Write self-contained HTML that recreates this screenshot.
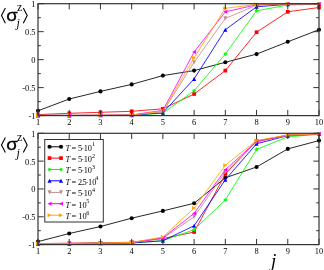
<!DOCTYPE html>
<html><head><meta charset="utf-8"><style>
html,body{margin:0;padding:0;background:#fff;}
svg{display:block;will-change:transform;}
.t{font:8.4px "Liberation Serif",serif;fill:#000}
.l{font:8.3px "Liberation Serif",serif;fill:#000}
.s{font:16px "Liberation Sans",sans-serif;fill:#000}
.z{font:12px "Liberation Serif",serif;fill:#000}
.j{font:italic 12px "Liberation Serif",serif;fill:#000}
</style></head><body>
<svg width="324" height="270" viewBox="0 0 324 270">
<rect width="324" height="270" fill="#fff"/>
<clipPath id="c1"><rect x="35.5" y="1.2000000000000002" width="286.0" height="116.89999999999999"/></clipPath>
<clipPath id="c2"><rect x="35.5" y="130.8" width="286.0" height="116.29999999999998"/></clipPath>
<g clip-path="url(#c1)">
<polyline points="38.00,110.80 69.22,99.00 100.44,91.40 131.67,84.40 162.89,75.60 194.11,70.60 225.33,62.30 256.56,54.10 287.78,41.80 319.00,29.70" fill="none" stroke="#000000" stroke-width="0.85"/>
<circle cx="38.00" cy="110.80" r="2.05" fill="#000000"/>
<circle cx="69.22" cy="99.00" r="2.05" fill="#000000"/>
<circle cx="100.44" cy="91.40" r="2.05" fill="#000000"/>
<circle cx="131.67" cy="84.40" r="2.05" fill="#000000"/>
<circle cx="162.89" cy="75.60" r="2.05" fill="#000000"/>
<circle cx="194.11" cy="70.60" r="2.05" fill="#000000"/>
<circle cx="225.33" cy="62.30" r="2.05" fill="#000000"/>
<circle cx="256.56" cy="54.10" r="2.05" fill="#000000"/>
<circle cx="287.78" cy="41.80" r="2.05" fill="#000000"/>
<circle cx="319.00" cy="29.70" r="2.05" fill="#000000"/>
<polyline points="38.00,114.60 69.22,113.30 100.44,112.30 131.67,111.30 162.89,108.80 194.11,94.00 225.33,70.60 256.56,32.20 287.78,11.80 319.00,7.50" fill="none" stroke="#ff0000" stroke-width="0.85"/>
<rect x="36.15" y="112.75" width="3.70" height="3.70" fill="#ff0000"/>
<rect x="67.37" y="111.45" width="3.70" height="3.70" fill="#ff0000"/>
<rect x="98.59" y="110.45" width="3.70" height="3.70" fill="#ff0000"/>
<rect x="129.82" y="109.45" width="3.70" height="3.70" fill="#ff0000"/>
<rect x="161.04" y="106.95" width="3.70" height="3.70" fill="#ff0000"/>
<rect x="192.26" y="92.15" width="3.70" height="3.70" fill="#ff0000"/>
<rect x="223.48" y="68.75" width="3.70" height="3.70" fill="#ff0000"/>
<rect x="254.71" y="30.35" width="3.70" height="3.70" fill="#ff0000"/>
<rect x="285.93" y="9.95" width="3.70" height="3.70" fill="#ff0000"/>
<rect x="317.15" y="5.65" width="3.70" height="3.70" fill="#ff0000"/>
<polyline points="38.00,115.40 69.22,115.40 100.44,115.30 131.67,115.20 162.89,113.30 194.11,90.70 225.33,54.00 256.56,10.80 287.78,5.00 319.00,4.20" fill="none" stroke="#00ff00" stroke-width="0.85"/>
<path d="M35.95 115.40L38.00 113.35L40.05 115.40L38.00 117.45Z" fill="#00ff00"/>
<path d="M67.17 115.40L69.22 113.35L71.27 115.40L69.22 117.45Z" fill="#00ff00"/>
<path d="M98.39 115.30L100.44 113.25L102.49 115.30L100.44 117.35Z" fill="#00ff00"/>
<path d="M129.62 115.20L131.67 113.15L133.72 115.20L131.67 117.25Z" fill="#00ff00"/>
<path d="M160.84 113.30L162.89 111.25L164.94 113.30L162.89 115.35Z" fill="#00ff00"/>
<path d="M192.06 90.70L194.11 88.65L196.16 90.70L194.11 92.75Z" fill="#00ff00"/>
<path d="M223.28 54.00L225.33 51.95L227.38 54.00L225.33 56.05Z" fill="#00ff00"/>
<path d="M254.51 10.80L256.56 8.75L258.61 10.80L256.56 12.85Z" fill="#00ff00"/>
<path d="M285.73 5.00L287.78 2.95L289.83 5.00L287.78 7.05Z" fill="#00ff00"/>
<path d="M316.95 4.20L319.00 2.15L321.05 4.20L319.00 6.25Z" fill="#00ff00"/>
<polyline points="38.00,115.40 69.22,115.40 100.44,115.30 131.67,115.20 162.89,112.80 194.11,78.90 225.33,29.70 256.56,6.80 287.78,4.30 319.00,4.00" fill="none" stroke="#0000ff" stroke-width="0.85"/>
<path d="M35.95 117.45L40.05 117.45L38.00 113.35Z" fill="#0000ff"/>
<path d="M67.17 117.45L71.27 117.45L69.22 113.35Z" fill="#0000ff"/>
<path d="M98.39 117.35L102.49 117.35L100.44 113.25Z" fill="#0000ff"/>
<path d="M129.62 117.25L133.72 117.25L131.67 113.15Z" fill="#0000ff"/>
<path d="M160.84 114.85L164.94 114.85L162.89 110.75Z" fill="#0000ff"/>
<path d="M192.06 80.95L196.16 80.95L194.11 76.85Z" fill="#0000ff"/>
<path d="M223.28 31.75L227.38 31.75L225.33 27.65Z" fill="#0000ff"/>
<path d="M254.51 8.85L258.61 8.85L256.56 4.75Z" fill="#0000ff"/>
<path d="M285.73 6.35L289.83 6.35L287.78 2.25Z" fill="#0000ff"/>
<path d="M316.95 6.05L321.05 6.05L319.00 1.95Z" fill="#0000ff"/>
<polyline points="38.00,115.40 69.22,115.40 100.44,115.30 131.67,115.10 162.89,111.80 194.11,62.20 225.33,18.40 256.56,5.20 287.78,4.10 319.00,4.00" fill="none" stroke="#bc8f8f" stroke-width="0.85"/>
<path d="M35.95 113.35L40.05 113.35L38.00 117.45Z" fill="#bc8f8f"/>
<path d="M67.17 113.35L71.27 113.35L69.22 117.45Z" fill="#bc8f8f"/>
<path d="M98.39 113.25L102.49 113.25L100.44 117.35Z" fill="#bc8f8f"/>
<path d="M129.62 113.05L133.72 113.05L131.67 117.15Z" fill="#bc8f8f"/>
<path d="M160.84 109.75L164.94 109.75L162.89 113.85Z" fill="#bc8f8f"/>
<path d="M192.06 60.15L196.16 60.15L194.11 64.25Z" fill="#bc8f8f"/>
<path d="M223.28 16.35L227.38 16.35L225.33 20.45Z" fill="#bc8f8f"/>
<path d="M254.51 3.15L258.61 3.15L256.56 7.25Z" fill="#bc8f8f"/>
<path d="M285.73 2.05L289.83 2.05L287.78 6.15Z" fill="#bc8f8f"/>
<path d="M316.95 1.95L321.05 1.95L319.00 6.05Z" fill="#bc8f8f"/>
<polyline points="38.00,115.40 69.22,115.40 100.44,115.30 131.67,115.00 162.89,110.30 194.11,52.00 225.33,11.80 256.56,4.80 287.78,4.00 319.00,4.00" fill="none" stroke="#ff00ff" stroke-width="0.85"/>
<path d="M40.05 113.35L40.05 117.45L35.95 115.40Z" fill="#ff00ff"/>
<path d="M71.27 113.35L71.27 117.45L67.17 115.40Z" fill="#ff00ff"/>
<path d="M102.49 113.25L102.49 117.35L98.39 115.30Z" fill="#ff00ff"/>
<path d="M133.72 112.95L133.72 117.05L129.62 115.00Z" fill="#ff00ff"/>
<path d="M164.94 108.25L164.94 112.35L160.84 110.30Z" fill="#ff00ff"/>
<path d="M196.16 49.95L196.16 54.05L192.06 52.00Z" fill="#ff00ff"/>
<path d="M227.38 9.75L227.38 13.85L223.28 11.80Z" fill="#ff00ff"/>
<path d="M258.61 2.75L258.61 6.85L254.51 4.80Z" fill="#ff00ff"/>
<path d="M289.83 1.95L289.83 6.05L285.73 4.00Z" fill="#ff00ff"/>
<path d="M321.05 1.95L321.05 6.05L316.95 4.00Z" fill="#ff00ff"/>
<polyline points="38.00,115.40 69.22,115.40 100.44,115.30 131.67,115.00 162.89,111.00 194.11,57.90 225.33,8.30 256.56,4.40 287.78,4.00 319.00,4.00" fill="none" stroke="#ffa500" stroke-width="0.85"/>
<path d="M35.95 113.35L35.95 117.45L40.05 115.40Z" fill="#ffa500"/>
<path d="M67.17 113.35L67.17 117.45L71.27 115.40Z" fill="#ffa500"/>
<path d="M98.39 113.25L98.39 117.35L102.49 115.30Z" fill="#ffa500"/>
<path d="M129.62 112.95L129.62 117.05L133.72 115.00Z" fill="#ffa500"/>
<path d="M160.84 108.95L160.84 113.05L164.94 111.00Z" fill="#ffa500"/>
<path d="M192.06 55.85L192.06 59.95L196.16 57.90Z" fill="#ffa500"/>
<path d="M223.28 6.25L223.28 10.35L227.38 8.30Z" fill="#ffa500"/>
<path d="M254.51 2.35L254.51 6.45L258.61 4.40Z" fill="#ffa500"/>
<path d="M285.73 1.95L285.73 6.05L289.83 4.00Z" fill="#ffa500"/>
<path d="M316.95 1.95L316.95 6.05L321.05 4.00Z" fill="#ffa500"/>
</g>
<g clip-path="url(#c2)">
<polyline points="38.00,241.60 69.22,233.50 100.44,226.50 131.67,218.20 162.89,210.90 194.11,203.30 225.33,177.80 256.56,167.00 287.78,148.90 319.00,140.60" fill="none" stroke="#000000" stroke-width="0.85"/>
<circle cx="38.00" cy="241.60" r="2.05" fill="#000000"/>
<circle cx="69.22" cy="233.50" r="2.05" fill="#000000"/>
<circle cx="100.44" cy="226.50" r="2.05" fill="#000000"/>
<circle cx="131.67" cy="218.20" r="2.05" fill="#000000"/>
<circle cx="162.89" cy="210.90" r="2.05" fill="#000000"/>
<circle cx="194.11" cy="203.30" r="2.05" fill="#000000"/>
<circle cx="225.33" cy="177.80" r="2.05" fill="#000000"/>
<circle cx="256.56" cy="167.00" r="2.05" fill="#000000"/>
<circle cx="287.78" cy="148.90" r="2.05" fill="#000000"/>
<circle cx="319.00" cy="140.60" r="2.05" fill="#000000"/>
<polyline points="38.00,243.60 69.22,243.20 100.44,242.80 131.67,242.30 162.89,238.60 194.11,232.00 225.33,174.00 256.56,141.00 287.78,135.20 319.00,134.00" fill="none" stroke="#ff0000" stroke-width="0.85"/>
<rect x="36.15" y="241.75" width="3.70" height="3.70" fill="#ff0000"/>
<rect x="67.37" y="241.35" width="3.70" height="3.70" fill="#ff0000"/>
<rect x="98.59" y="240.95" width="3.70" height="3.70" fill="#ff0000"/>
<rect x="129.82" y="240.45" width="3.70" height="3.70" fill="#ff0000"/>
<rect x="161.04" y="236.75" width="3.70" height="3.70" fill="#ff0000"/>
<rect x="192.26" y="230.15" width="3.70" height="3.70" fill="#ff0000"/>
<rect x="223.48" y="172.15" width="3.70" height="3.70" fill="#ff0000"/>
<rect x="254.71" y="139.15" width="3.70" height="3.70" fill="#ff0000"/>
<rect x="285.93" y="133.35" width="3.70" height="3.70" fill="#ff0000"/>
<rect x="317.15" y="132.15" width="3.70" height="3.70" fill="#ff0000"/>
<polyline points="38.00,243.80 69.22,243.60 100.44,243.30 131.67,243.00 162.89,240.60 194.11,229.70 225.33,200.00 256.56,149.40 287.78,136.80 319.00,134.40" fill="none" stroke="#00ff00" stroke-width="0.85"/>
<path d="M35.95 243.80L38.00 241.75L40.05 243.80L38.00 245.85Z" fill="#00ff00"/>
<path d="M67.17 243.60L69.22 241.55L71.27 243.60L69.22 245.65Z" fill="#00ff00"/>
<path d="M98.39 243.30L100.44 241.25L102.49 243.30L100.44 245.35Z" fill="#00ff00"/>
<path d="M129.62 243.00L131.67 240.95L133.72 243.00L131.67 245.05Z" fill="#00ff00"/>
<path d="M160.84 240.60L162.89 238.55L164.94 240.60L162.89 242.65Z" fill="#00ff00"/>
<path d="M192.06 229.70L194.11 227.65L196.16 229.70L194.11 231.75Z" fill="#00ff00"/>
<path d="M223.28 200.00L225.33 197.95L227.38 200.00L225.33 202.05Z" fill="#00ff00"/>
<path d="M254.51 149.40L256.56 147.35L258.61 149.40L256.56 151.45Z" fill="#00ff00"/>
<path d="M285.73 136.80L287.78 134.75L289.83 136.80L287.78 138.85Z" fill="#00ff00"/>
<path d="M316.95 134.40L319.00 132.35L321.05 134.40L319.00 136.45Z" fill="#00ff00"/>
<polyline points="38.00,243.80 69.22,243.60 100.44,243.30 131.67,243.00 162.89,240.80 194.11,225.70 225.33,179.80 256.56,143.80 287.78,135.60 319.00,134.00" fill="none" stroke="#0000ff" stroke-width="0.85"/>
<path d="M35.95 245.85L40.05 245.85L38.00 241.75Z" fill="#0000ff"/>
<path d="M67.17 245.65L71.27 245.65L69.22 241.55Z" fill="#0000ff"/>
<path d="M98.39 245.35L102.49 245.35L100.44 241.25Z" fill="#0000ff"/>
<path d="M129.62 245.05L133.72 245.05L131.67 240.95Z" fill="#0000ff"/>
<path d="M160.84 242.85L164.94 242.85L162.89 238.75Z" fill="#0000ff"/>
<path d="M192.06 227.75L196.16 227.75L194.11 223.65Z" fill="#0000ff"/>
<path d="M223.28 181.85L227.38 181.85L225.33 177.75Z" fill="#0000ff"/>
<path d="M254.51 145.85L258.61 145.85L256.56 141.75Z" fill="#0000ff"/>
<path d="M285.73 137.65L289.83 137.65L287.78 133.55Z" fill="#0000ff"/>
<path d="M316.95 136.05L321.05 136.05L319.00 131.95Z" fill="#0000ff"/>
<polyline points="38.00,243.80 69.22,243.50 100.44,243.20 131.67,242.80 162.89,238.30 194.11,216.90 225.33,172.00 256.56,142.00 287.78,135.30 319.00,134.00" fill="none" stroke="#bc8f8f" stroke-width="0.85"/>
<path d="M35.95 241.75L40.05 241.75L38.00 245.85Z" fill="#bc8f8f"/>
<path d="M67.17 241.45L71.27 241.45L69.22 245.55Z" fill="#bc8f8f"/>
<path d="M98.39 241.15L102.49 241.15L100.44 245.25Z" fill="#bc8f8f"/>
<path d="M129.62 240.75L133.72 240.75L131.67 244.85Z" fill="#bc8f8f"/>
<path d="M160.84 236.25L164.94 236.25L162.89 240.35Z" fill="#bc8f8f"/>
<path d="M192.06 214.85L196.16 214.85L194.11 218.95Z" fill="#bc8f8f"/>
<path d="M223.28 169.95L227.38 169.95L225.33 174.05Z" fill="#bc8f8f"/>
<path d="M254.51 139.95L258.61 139.95L256.56 144.05Z" fill="#bc8f8f"/>
<path d="M285.73 133.25L289.83 133.25L287.78 137.35Z" fill="#bc8f8f"/>
<path d="M316.95 131.95L321.05 131.95L319.00 136.05Z" fill="#bc8f8f"/>
<polyline points="38.00,243.80 69.22,243.50 100.44,243.20 131.67,242.60 162.89,237.80 194.11,213.40 225.33,169.70 256.56,141.50 287.78,135.20 319.00,134.00" fill="none" stroke="#ff00ff" stroke-width="0.85"/>
<path d="M40.05 241.75L40.05 245.85L35.95 243.80Z" fill="#ff00ff"/>
<path d="M71.27 241.45L71.27 245.55L67.17 243.50Z" fill="#ff00ff"/>
<path d="M102.49 241.15L102.49 245.25L98.39 243.20Z" fill="#ff00ff"/>
<path d="M133.72 240.55L133.72 244.65L129.62 242.60Z" fill="#ff00ff"/>
<path d="M164.94 235.75L164.94 239.85L160.84 237.80Z" fill="#ff00ff"/>
<path d="M196.16 211.35L196.16 215.45L192.06 213.40Z" fill="#ff00ff"/>
<path d="M227.38 167.65L227.38 171.75L223.28 169.70Z" fill="#ff00ff"/>
<path d="M258.61 139.45L258.61 143.55L254.51 141.50Z" fill="#ff00ff"/>
<path d="M289.83 133.15L289.83 137.25L285.73 135.20Z" fill="#ff00ff"/>
<path d="M321.05 131.95L321.05 136.05L316.95 134.00Z" fill="#ff00ff"/>
<polyline points="38.00,243.80 69.22,243.50 100.44,243.00 131.67,242.40 162.89,237.00 194.11,208.10 225.33,165.20 256.56,140.50 287.78,135.00 319.00,134.00" fill="none" stroke="#ffa500" stroke-width="0.85"/>
<path d="M35.95 241.75L35.95 245.85L40.05 243.80Z" fill="#ffa500"/>
<path d="M67.17 241.45L67.17 245.55L71.27 243.50Z" fill="#ffa500"/>
<path d="M98.39 240.95L98.39 245.05L102.49 243.00Z" fill="#ffa500"/>
<path d="M129.62 240.35L129.62 244.45L133.72 242.40Z" fill="#ffa500"/>
<path d="M160.84 234.95L160.84 239.05L164.94 237.00Z" fill="#ffa500"/>
<path d="M192.06 206.05L192.06 210.15L196.16 208.10Z" fill="#ffa500"/>
<path d="M223.28 163.15L223.28 167.25L227.38 165.20Z" fill="#ffa500"/>
<path d="M254.51 138.45L254.51 142.55L258.61 140.50Z" fill="#ffa500"/>
<path d="M285.73 132.95L285.73 137.05L289.83 135.00Z" fill="#ffa500"/>
<path d="M316.95 131.95L316.95 136.05L321.05 134.00Z" fill="#ffa500"/>
</g>
<path d="M38.0 3.70h5.7M319.0 3.70h-5.7" stroke="#333" stroke-width="1"/>
<path d="M38.0 17.69h2.8M319.0 17.69h-2.8" stroke="#333" stroke-width="1"/>
<path d="M38.0 31.67h5.7M319.0 31.67h-5.7" stroke="#333" stroke-width="1"/>
<path d="M38.0 45.66h2.8M319.0 45.66h-2.8" stroke="#333" stroke-width="1"/>
<path d="M38.0 59.65h5.7M319.0 59.65h-5.7" stroke="#333" stroke-width="1"/>
<path d="M38.0 73.64h2.8M319.0 73.64h-2.8" stroke="#333" stroke-width="1"/>
<path d="M38.0 87.62h5.7M319.0 87.62h-5.7" stroke="#333" stroke-width="1"/>
<path d="M38.0 101.61h2.8M319.0 101.61h-2.8" stroke="#333" stroke-width="1"/>
<path d="M38.0 115.60h5.7M319.0 115.60h-5.7" stroke="#333" stroke-width="1"/>
<path d="M38.00 3.7v5.7M38.00 115.6v-5.7" stroke="#333" stroke-width="1"/>
<path d="M69.22 3.7v5.7M69.22 115.6v-5.7" stroke="#333" stroke-width="1"/>
<path d="M100.44 3.7v5.7M100.44 115.6v-5.7" stroke="#333" stroke-width="1"/>
<path d="M131.67 3.7v5.7M131.67 115.6v-5.7" stroke="#333" stroke-width="1"/>
<path d="M162.89 3.7v5.7M162.89 115.6v-5.7" stroke="#333" stroke-width="1"/>
<path d="M194.11 3.7v5.7M194.11 115.6v-5.7" stroke="#333" stroke-width="1"/>
<path d="M225.33 3.7v5.7M225.33 115.6v-5.7" stroke="#333" stroke-width="1"/>
<path d="M256.56 3.7v5.7M256.56 115.6v-5.7" stroke="#333" stroke-width="1"/>
<path d="M287.78 3.7v5.7M287.78 115.6v-5.7" stroke="#333" stroke-width="1"/>
<path d="M319.00 3.7v5.7M319.00 115.6v-5.7" stroke="#333" stroke-width="1"/>
<rect x="38.0" y="3.7" width="281.0" height="111.89999999999999" fill="none" stroke="#333" stroke-width="1.2"/>
<text x="35.5" y="7.10" text-anchor="end" class="t">1</text>
<text x="35.5" y="35.07" text-anchor="end" class="t">0.5</text>
<text x="35.5" y="63.05" text-anchor="end" class="t">0</text>
<text x="35.5" y="91.03" text-anchor="end" class="t">-0.5</text>
<text x="35.5" y="119.00" text-anchor="end" class="t">-1</text>
<text x="38.00" y="124.80" text-anchor="middle" class="t">1</text>
<text x="69.22" y="124.80" text-anchor="middle" class="t">2</text>
<text x="100.44" y="124.80" text-anchor="middle" class="t">3</text>
<text x="131.67" y="124.80" text-anchor="middle" class="t">4</text>
<text x="162.89" y="124.80" text-anchor="middle" class="t">5</text>
<text x="194.11" y="124.80" text-anchor="middle" class="t">6</text>
<text x="225.33" y="124.80" text-anchor="middle" class="t">7</text>
<text x="256.56" y="124.80" text-anchor="middle" class="t">8</text>
<text x="287.78" y="124.80" text-anchor="middle" class="t">9</text>
<text x="319.00" y="124.80" text-anchor="middle" class="t">10</text>
<path d="M38.0 133.30h5.7M319.0 133.30h-5.7" stroke="#333" stroke-width="1"/>
<path d="M38.0 147.21h2.8M319.0 147.21h-2.8" stroke="#333" stroke-width="1"/>
<path d="M38.0 161.12h5.7M319.0 161.12h-5.7" stroke="#333" stroke-width="1"/>
<path d="M38.0 175.04h2.8M319.0 175.04h-2.8" stroke="#333" stroke-width="1"/>
<path d="M38.0 188.95h5.7M319.0 188.95h-5.7" stroke="#333" stroke-width="1"/>
<path d="M38.0 202.86h2.8M319.0 202.86h-2.8" stroke="#333" stroke-width="1"/>
<path d="M38.0 216.78h5.7M319.0 216.78h-5.7" stroke="#333" stroke-width="1"/>
<path d="M38.0 230.69h2.8M319.0 230.69h-2.8" stroke="#333" stroke-width="1"/>
<path d="M38.0 244.60h5.7M319.0 244.60h-5.7" stroke="#333" stroke-width="1"/>
<path d="M38.00 133.3v5.7M38.00 244.6v-5.7" stroke="#333" stroke-width="1"/>
<path d="M69.22 133.3v5.7M69.22 244.6v-5.7" stroke="#333" stroke-width="1"/>
<path d="M100.44 133.3v5.7M100.44 244.6v-5.7" stroke="#333" stroke-width="1"/>
<path d="M131.67 133.3v5.7M131.67 244.6v-5.7" stroke="#333" stroke-width="1"/>
<path d="M162.89 133.3v5.7M162.89 244.6v-5.7" stroke="#333" stroke-width="1"/>
<path d="M194.11 133.3v5.7M194.11 244.6v-5.7" stroke="#333" stroke-width="1"/>
<path d="M225.33 133.3v5.7M225.33 244.6v-5.7" stroke="#333" stroke-width="1"/>
<path d="M256.56 133.3v5.7M256.56 244.6v-5.7" stroke="#333" stroke-width="1"/>
<path d="M287.78 133.3v5.7M287.78 244.6v-5.7" stroke="#333" stroke-width="1"/>
<path d="M319.00 133.3v5.7M319.00 244.6v-5.7" stroke="#333" stroke-width="1"/>
<rect x="38.0" y="133.3" width="281.0" height="111.29999999999998" fill="none" stroke="#333" stroke-width="1.2"/>
<text x="35.5" y="136.70" text-anchor="end" class="t">1</text>
<text x="35.5" y="164.53" text-anchor="end" class="t">0.5</text>
<text x="35.5" y="192.35" text-anchor="end" class="t">0</text>
<text x="35.5" y="220.18" text-anchor="end" class="t">-0.5</text>
<text x="35.5" y="248.00" text-anchor="end" class="t">-1</text>
<text x="38.00" y="253.80" text-anchor="middle" class="t">1</text>
<text x="69.22" y="253.80" text-anchor="middle" class="t">2</text>
<text x="100.44" y="253.80" text-anchor="middle" class="t">3</text>
<text x="131.67" y="253.80" text-anchor="middle" class="t">4</text>
<text x="162.89" y="253.80" text-anchor="middle" class="t">5</text>
<text x="194.11" y="253.80" text-anchor="middle" class="t">6</text>
<text x="225.33" y="253.80" text-anchor="middle" class="t">7</text>
<text x="256.56" y="253.80" text-anchor="middle" class="t">8</text>
<text x="287.78" y="253.80" text-anchor="middle" class="t">9</text>
<text x="319.00" y="253.80" text-anchor="middle" class="t">10</text>
<rect x="44.75" y="139.5" width="58.55" height="82.5" fill="#fff" stroke="#333" stroke-width="1"/>
<path d="M49.5 146.8H61" stroke="#000000" stroke-width="1"/>
<circle cx="49.50" cy="146.80" r="2.05" fill="#000000"/>
<circle cx="61.00" cy="146.80" r="2.05" fill="#000000"/>
<text x="65.6" y="150.70" class="l" style="font-style:italic">T</text>
<text x="71.4" y="150.70" class="l">=</text>
<text x="78.0" y="150.70" class="l">5</text>
<text x="81.4" y="150.70" class="l">·</text>
<text x="83.7" y="150.70" class="l">10</text>
<text x="92.1" y="146.20" class="l" style="font-size:6px">1</text>
<path d="M49.5 158.1H61" stroke="#ff0000" stroke-width="1"/>
<rect x="47.65" y="156.25" width="3.70" height="3.70" fill="#ff0000"/>
<rect x="59.15" y="156.25" width="3.70" height="3.70" fill="#ff0000"/>
<text x="65.6" y="162.00" class="l" style="font-style:italic">T</text>
<text x="71.4" y="162.00" class="l">=</text>
<text x="78.0" y="162.00" class="l">5</text>
<text x="81.4" y="162.00" class="l">·</text>
<text x="83.7" y="162.00" class="l">10</text>
<text x="92.1" y="157.50" class="l" style="font-size:6px">2</text>
<path d="M49.5 169.5H61" stroke="#00ff00" stroke-width="1"/>
<path d="M47.45 169.50L49.50 167.45L51.55 169.50L49.50 171.55Z" fill="#00ff00"/>
<path d="M58.95 169.50L61.00 167.45L63.05 169.50L61.00 171.55Z" fill="#00ff00"/>
<text x="65.6" y="173.40" class="l" style="font-style:italic">T</text>
<text x="71.4" y="173.40" class="l">=</text>
<text x="78.0" y="173.40" class="l">5</text>
<text x="81.4" y="173.40" class="l">·</text>
<text x="83.7" y="173.40" class="l">10</text>
<text x="92.1" y="168.90" class="l" style="font-size:6px">3</text>
<path d="M49.5 180.8H61" stroke="#0000ff" stroke-width="1"/>
<path d="M47.45 182.85L51.55 182.85L49.50 178.75Z" fill="#0000ff"/>
<path d="M58.95 182.85L63.05 182.85L61.00 178.75Z" fill="#0000ff"/>
<text x="65.6" y="184.70" class="l" style="font-style:italic">T</text>
<text x="71.4" y="184.70" class="l">=</text>
<text x="78.0" y="184.70" class="l">2</text>
<text x="81.4" y="184.70" class="l">.</text>
<text x="82.5" y="184.70" class="l">5</text>
<text x="85.8" y="184.70" class="l">·</text>
<text x="88.0" y="184.70" class="l">10</text>
<text x="95.3" y="180.20" class="l" style="font-size:6px">4</text>
<path d="M49.5 192.4H61" stroke="#bc8f8f" stroke-width="1"/>
<path d="M47.45 190.35L51.55 190.35L49.50 194.45Z" fill="#bc8f8f"/>
<path d="M58.95 190.35L63.05 190.35L61.00 194.45Z" fill="#bc8f8f"/>
<text x="65.6" y="196.30" class="l" style="font-style:italic">T</text>
<text x="71.4" y="196.30" class="l">=</text>
<text x="78.0" y="196.30" class="l">5</text>
<text x="81.4" y="196.30" class="l">·</text>
<text x="83.7" y="196.30" class="l">10</text>
<text x="92.1" y="191.80" class="l" style="font-size:6px">4</text>
<path d="M49.5 203.7H61" stroke="#ff00ff" stroke-width="1"/>
<path d="M51.55 201.65L51.55 205.75L47.45 203.70Z" fill="#ff00ff"/>
<path d="M63.05 201.65L63.05 205.75L58.95 203.70Z" fill="#ff00ff"/>
<text x="65.6" y="207.60" class="l" style="font-style:italic">T</text>
<text x="71.4" y="207.60" class="l">=</text>
<text x="78.3" y="207.60" class="l">10</text>
<text x="86.3" y="203.10" class="l" style="font-size:6px">5</text>
<path d="M49.5 215.2H61" stroke="#ffa500" stroke-width="1"/>
<path d="M47.45 213.15L47.45 217.25L51.55 215.20Z" fill="#ffa500"/>
<path d="M58.95 213.15L58.95 217.25L63.05 215.20Z" fill="#ffa500"/>
<text x="65.6" y="219.10" class="l" style="font-style:italic">T</text>
<text x="71.4" y="219.10" class="l">=</text>
<text x="78.3" y="219.10" class="l">10</text>
<text x="86.3" y="214.60" class="l" style="font-size:6px">6</text>
<path d="M5.4 8.00L1.5 15.60L5.4 23.20" fill="none" stroke="#000" stroke-width="1.1"/>
<path d="M23.3 8.00L27.2 15.60L23.3 23.20" fill="none" stroke="#000" stroke-width="1.1"/>
<text transform="translate(6.3 20.90) scale(1.17 1)" class="s" stroke="#000" stroke-width="0.3">σ</text>
<text x="17" y="11.20" class="z">z</text>
<text x="16.5" y="27.20" class="j">j</text>
<path d="M5.4 137.40L1.5 145.00L5.4 152.60" fill="none" stroke="#000" stroke-width="1.1"/>
<path d="M23.3 137.40L27.2 145.00L23.3 152.60" fill="none" stroke="#000" stroke-width="1.1"/>
<text transform="translate(6.3 150.30) scale(1.17 1)" class="s" stroke="#000" stroke-width="0.3">σ</text>
<text x="17" y="140.60" class="z">z</text>
<text x="16.5" y="156.60" class="j">j</text>
<text x="271" y="267" style="font:italic 19px 'Liberation Serif',serif">j</text>
</svg>
</body></html>
